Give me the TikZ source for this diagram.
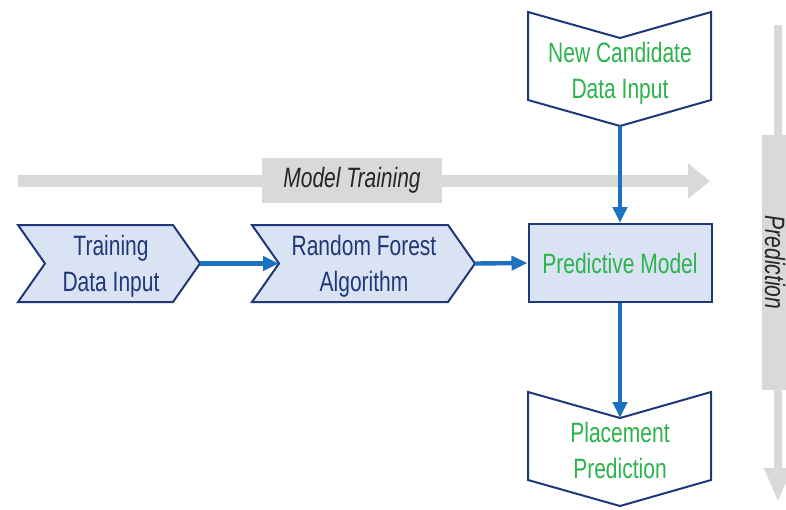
\documentclass[tikz,border=0pt]{standalone}
\usepackage{fontspec}
\setmainfont{Liberation Sans}[FakeStretch=0.75]
\usetikzlibrary{arrows.meta}
\definecolor{navy}{RGB}{31,56,122}
\definecolor{paleblue}{RGB}{218,227,243}
\definecolor{flowblue}{RGB}{30,112,192}
\definecolor{leafgreen}{RGB}{44,180,76}
\definecolor{bandgray}{RGB}{217,217,217}

\begin{document}
\begin{tikzpicture}[x=0.5pt,y=-0.5pt,
    chev/.style={draw=navy,line width=1pt,line join=miter},
    lbl/.style={align=center,font=\fontsize{14}{18}\selectfont},
    flow/.style={flowblue,line width=2.2pt,-{Triangle[width=7pt,length=8pt]}}]
    % page frame, in pixels of the reference
    \useasboundingbox (0,0) rectangle (786,509);
    \clip (0,0) rectangle (786,509);
    % depth of the chevron points
    \pgfmathsetmacro{\tipH}{27}
    \pgfmathsetmacro{\tipV}{26}

    % grey stage arrows
    \coordinate (trainstart) at (18,181);
    \coordinate (trainend) at (710,181);
    \draw[bandgray,line width=6pt,-{Triangle[width=17pt,length=11pt]}] (trainstart) -- (trainend);
    \node[fill=bandgray,minimum width=90pt,minimum height=22.5pt,
      font=\fontsize{14}{18}\selectfont\itshape,text=black!85] (trainlbl) at (352,180.5) {Model Training};
    \coordinate (predstart) at (778,25);
    \coordinate (predend) at (778,502);
    \draw[bandgray,line width=4pt,-{Triangle[width=13pt,length=17pt]}] (predstart) -- (predend);
    \node[fill=bandgray,rotate=-90,minimum width=127.5pt,minimum height=13pt,inner sep=1pt,
      text height=10pt,text depth=0pt,
      font=\fontsize{14}{18}\selectfont\itshape,text=black!85] (predlbl) at (775,262.5) {Prediction};

    % training chevrons
    \draw[chev,fill=paleblue] (18,225) -- ++(155,0) -- ++(\tipH,38.5) -- ++(-\tipH,38.5)
      -- ++(-155,0) -- ++(\tipH,-38.5) -- cycle;
    \node[lbl,text=navy] (train) at (111,266) {Training\\Data Input};
    \coordinate (traintip) at (200,263.5);
    \draw[chev,fill=paleblue] (252,225) -- ++(196,0) -- ++(\tipH,38.5) -- ++(-\tipH,38.5)
      -- ++(-196,0) -- ++(\tipH,-38.5) -- cycle;
    \node[lbl,text=navy] (forest) at (364,266) {Random Forest\\Algorithm};
    \coordinate (forestnotch) at (279,263.5);
    \coordinate (foresttip) at (475,263.5);

    % model box
    \node[draw=navy,line width=1pt,fill=paleblue,minimum width=91.5pt,minimum height=39pt,
      lbl,text=leafgreen] (model) at (620,263) {Predictive Model};

    % candidate input and prediction output
    \draw[chev,fill=white] (528,12) -- ++(92,\tipV) -- ++(91,-\tipV) -- ++(0,88)
      -- ++(-91,\tipV) -- ++(-92,-\tipV) -- cycle;
    \node[lbl,text=leafgreen] (cand) at (620,73) {New Candidate\\Data Input};
    \coordinate (candtip) at (620,126);
    \draw[chev,fill=white] (528,392) -- ++(92,\tipV) -- ++(91,-\tipV) -- ++(0,88)
      -- ++(-91,\tipV) -- ++(-92,-\tipV) -- cycle;
    \node[lbl,text=leafgreen] (place) at (620,450) {Placement\\Prediction};
    \coordinate (placenotch) at (620,418);

    % flow
    \draw[flow] (traintip) -- (forestnotch);
    \draw[flow] (foresttip) -- (model.west);
    \draw[flow] (candtip) -- (model.north);
    \draw[flow] (model.south) -- (placenotch);
\end{tikzpicture}
\end{document}
